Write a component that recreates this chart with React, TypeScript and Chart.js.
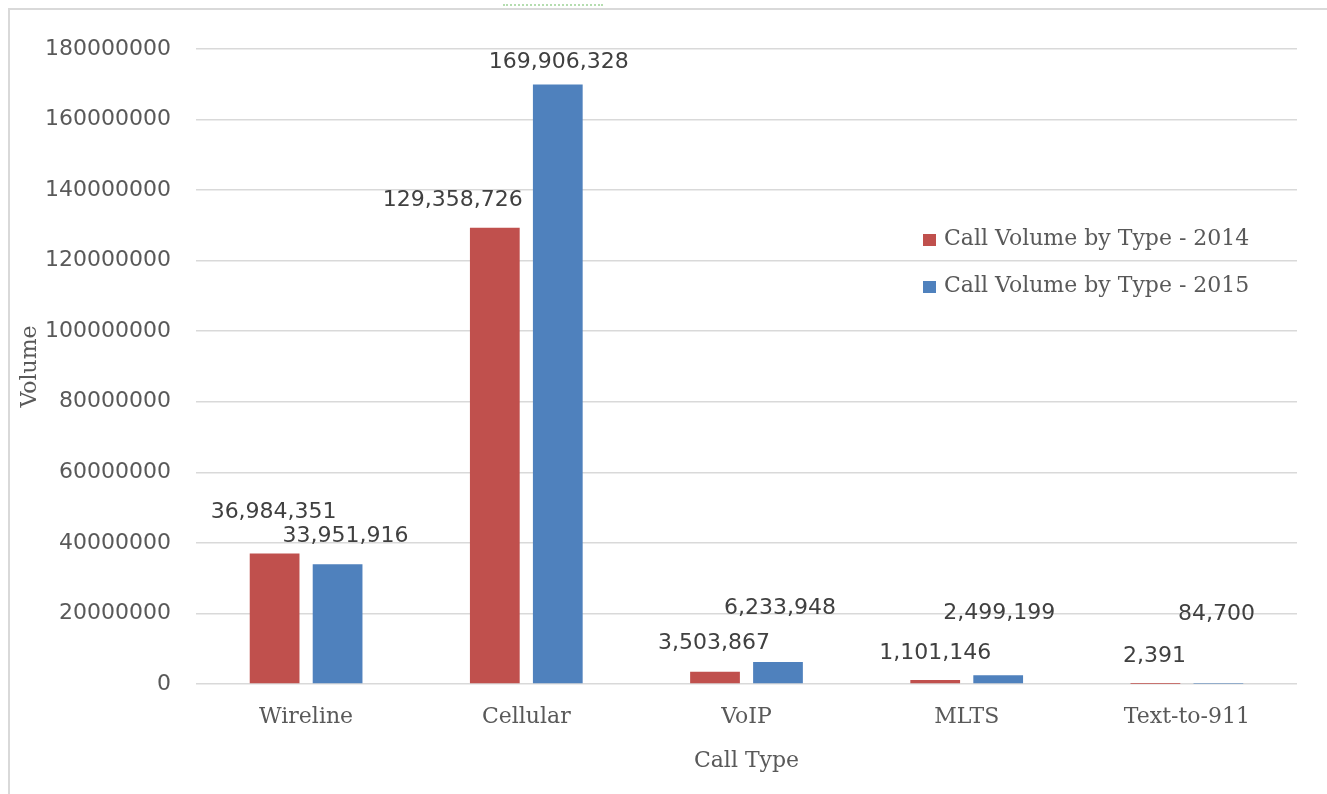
import React, { useEffect, useRef } from "react";
import { Chart, registerables } from "chart.js";

Chart.register(...registerables);

const categories = ["Wireline", "Cellular", "VoIP", "MLTS", "Text-to-911"];
const volume2014 = [36984351, 129358726, 3503867, 1101146, 2391];
const volume2015 = [33951916, 169906328, 6233948, 2499199, 84700];
const seriesNames = ["Call Volume by Type - 2014", "Call Volume by Type - 2015"];
const yMin = 0;
const yMax = 180000000;
const yStep = 20000000;
const xTitle = "Call Type";
const yTitle = "Volume";

// small nudges (px) of the value labels from their default spot above each bar
const labelNudge2014 = [[-1, -13], [-42, 1], [-1, 0], [0, 1], [-1, 0]];
const labelNudge2015 = [[8, 0], [1, 6], [2, -26], [1, -34], [-2, -41]];

const RED = "#C0504D";
const BLUE = "#4F81BD";
const SANS = "'DejaVu Sans', Verdana, sans-serif";
const SERIF = "'DejaVu Serif', serif";

const valueLabels = {
  id: "valueLabels",
  afterDatasetsDraw(chart: any) {
    const ctx = chart.ctx;
    ctx.save();
    ctx.font = `22px ${SANS}`;
    ctx.fillStyle = "#404040";
    ctx.textAlign = "center";
    ctx.textBaseline = "middle";
    const nudges = [labelNudge2014, labelNudge2015];
    chart.data.datasets.forEach((ds: any, di: number) => {
      const meta = chart.getDatasetMeta(di);
      meta.data.forEach((bar: any, i: number) => {
        const v = ds.data[i] as number;
        const [dx, dy] = nudges[di][i];
        ctx.fillText(v.toLocaleString("en-US"), bar.x + dx, bar.y - 28 + dy);
      });
    });
    ctx.restore();
  },
};

const insideLegend = {
  id: "insideLegend",
  afterDraw(chart: any) {
    const ctx = chart.ctx;
    const x0 = 923;
    const ys = [240, 287];
    ctx.save();
    ctx.font = `22px ${SERIF}`;
    ctx.textAlign = "left";
    ctx.textBaseline = "middle";
    chart.data.datasets.forEach((ds: any, i: number) => {
      ctx.fillStyle = ds.backgroundColor;
      ctx.fillRect(x0, ys[i] - 6, 13, 12);
      ctx.fillStyle = "#595959";
      ctx.fillText(ds.label, x0 + 21, ys[i] - 1);
    });
    ctx.restore();
  },
};

export default function App() {
  const ref = useRef<HTMLCanvasElement | null>(null);
  useEffect(() => {
    if (!ref.current) return;
    const chart = new Chart(ref.current, {
      type: "bar",
      data: {
        labels: categories,
        datasets: [
          { label: seriesNames[0], data: volume2014, backgroundColor: RED, barPercentage: 0.79, categoryPercentage: 0.572 },
          { label: seriesNames[1], data: volume2015, backgroundColor: BLUE, barPercentage: 0.79, categoryPercentage: 0.572 },
        ],
      },
      options: {
        animation: false,
        responsive: false,
        devicePixelRatio: 1,
        layout: { padding: { top: 49, left: 0, right: 30, bottom: 0 } },
        plugins: { legend: { display: false }, tooltip: { enabled: false } },
        scales: {
          x: {
            grid: { display: false, drawTicks: false },
            border: { display: false },
            ticks: { font: { family: SERIF, size: 22 }, color: "#595959", padding: 20 },
            title: { display: true, text: xTitle, font: { family: SERIF, size: 22 }, color: "#595959", padding: { top: 0, bottom: 20 } },
            afterFit: (s: any) => { s.height = 110; },
          },
          y: {
            min: yMin,
            max: yMax,
            grid: { color: "#D9D9D9", lineWidth: 1.5, drawTicks: false },
            border: { display: false },
            ticks: {
              stepSize: yStep,
              font: { family: SANS, size: 22 },
              color: "#595959",
              padding: 25,
              callback: (v: any) => String(v),
            },
            title: { display: true, text: yTitle, font: { family: SERIF, size: 22 }, color: "#595959", padding: { top: 17, bottom: 0 } },
            afterFit: (s: any) => { s.width = 196; },
          },
        },
      },
      plugins: [valueLabels, insideLegend],
    });
    return () => chart.destroy();
  }, []);
  return (
    <div style={{ position: "absolute", left: 0, top: 0, width: 1327, height: 794, background: "#fff", overflow: "hidden" }}>
      <div style={{ position: "absolute", left: 8, top: 8, width: 1319, height: 786, borderLeft: "2px solid #D9D9D9", borderTop: "2px solid #D9D9D9", boxSizing: "border-box" }} />
      <div style={{ position: "absolute", left: 503, top: 4, width: 100, height: 0, borderTop: "2px dotted #B5DDB0" }} />
      <canvas ref={ref} width={1327} height={794} style={{ position: "absolute", left: 0, top: 0, width: 1327, height: 794 }} />
    </div>
  );
}
